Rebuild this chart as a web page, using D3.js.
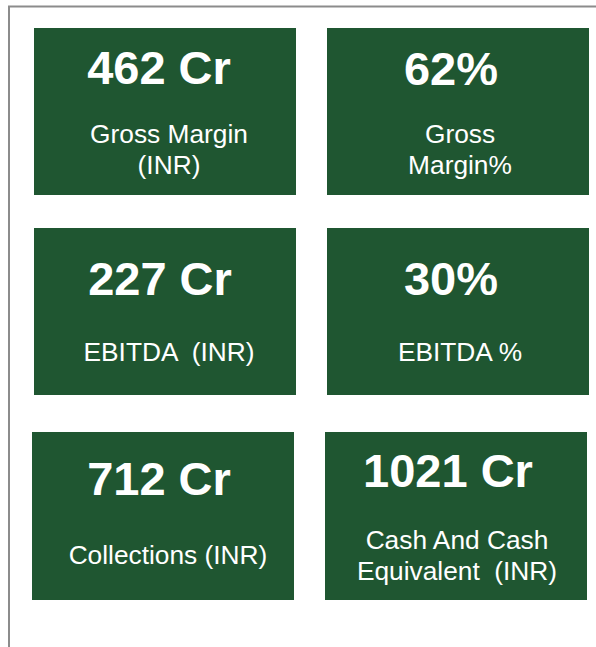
<!DOCTYPE html>
<html>
<head>
<meta charset="utf-8">
<script src="https://cdn.jsdelivr.net/npm/d3@7"></script>
<style>
  html, body { margin: 0; padding: 0; background: #fff; }
  svg { display: block; font-family: "Liberation Sans", Arial, sans-serif; }
</style>
</head>
<body>
<div id="kpi"></div>
<script>
// KPI values and their captions (caption lines split by "|")
const values = ["462 Cr", "62%", "227 Cr", "30%", "712 Cr", "1021 Cr"];
const captions = ["Gross Margin|(INR)", "Gross|Margin%", "EBITDA  (INR)", "EBITDA %",
                  "Collections (INR)", "Cash And Cash|Equivalent  (INR)"];

// tile boxes [x, y, w, h] and text offsets inside each tile
const boxes = [[34, 28, 262, 167], [327, 28, 262, 167],
               [34, 228, 262, 167], [327, 228, 262, 167],
               [32, 432, 262, 168], [325, 432, 262, 168]];
const valueOff = [[125, 56], [124, 57], [126, 67], [124, 67], [127, 63], [123, 55]];
const capOff = [[135, 115], [133, 115], [135, 133], [133, 133], [136, 132], [132, 117]];

const width = 596, height = 647;
const green = "#1f5631";

d3.select("#kpi").select("svg").remove();
const svg = d3.select("#kpi").append("svg")
    .attr("width", width)
    .attr("height", height);

// grey frame, only top and left visible
svg.append("path")
    .attr("d", `M 9 ${height} L 9 6.5 L ${width} 6.5`)
    .attr("fill", "none")
    .attr("stroke", "#8c8c8c")
    .attr("stroke-width", 2);

const tiles = svg.selectAll("g.tile")
    .data(values.map((v, i) => ({ value: v, caption: captions[i].split("|"), i })))
    .enter().append("g")
    .attr("class", "tile")
    .attr("transform", d => `translate(${boxes[d.i][0]},${boxes[d.i][1]})`);

tiles.append("rect")
    .attr("width", d => boxes[d.i][2])
    .attr("height", d => boxes[d.i][3])
    .attr("fill", green);

tiles.append("text")
    .attr("x", d => valueOff[d.i][0])
    .attr("y", d => valueOff[d.i][1])
    .attr("text-anchor", "middle")
    .attr("fill", "#fff")
    .attr("font-weight", "bold")
    .attr("font-size", 47)
    .text(d => d.value);

tiles.each(function (d) {
    const t = d3.select(this).append("text")
        .attr("text-anchor", "middle")
        .attr("fill", "#fff")
        .attr("font-size", 26.3);
    d.caption.forEach((line, k) => {
        t.append("tspan")
            .attr("x", capOff[d.i][0])
            .attr("y", capOff[d.i][1] + k * 31)
            .attr("xml:space", "preserve")
            .style("white-space", "pre")
            .text(line);
    });
});
</script>
</body>
</html>
